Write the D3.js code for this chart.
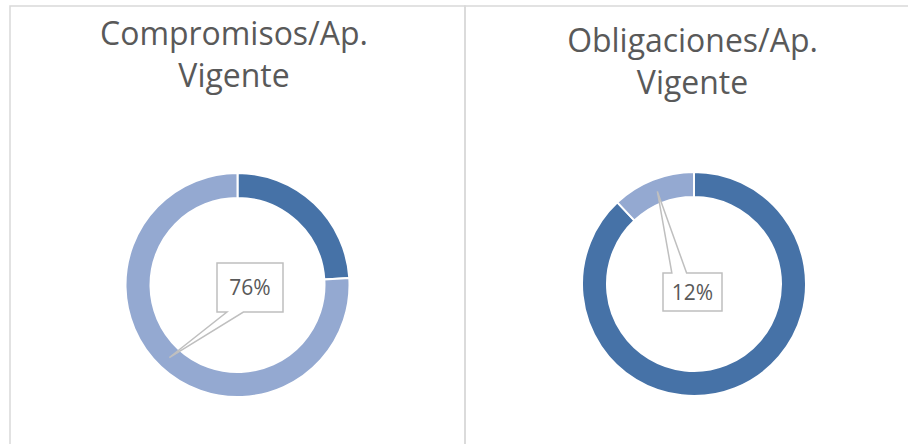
<!DOCTYPE html>
<html>
<head>
  <meta charset="utf-8">
  <script src="https://cdn.jsdelivr.net/npm/d3@7/dist/d3.min.js"></script>
  <style>
    body { margin: 0; background: #ffffff; }
    svg { display: block; }
    text { font-family: "Open Sans", sans-serif; fill: #595959; }
  </style>
</head>
<body>
  <svg id="canvas" width="908" height="444"></svg>
<script>
  // data
  const titles = [["Compromisos/Ap.", "Vigente"], ["Obligaciones/Ap.", "Vigente"]];
  const seriesDark = [24, 88];
  const seriesLight = [76, 12];
  const labelTexts = ["76%", "12%"];

  const colors = ["#4672a7", "#94a9d1"];

  // layout of the two chart boxes
  const panels = [
    { x: 10, w: 455, cx: 237.5, cy: 285, titleX: 234, titleY: 45, box: { dx: 12.5, dy: 2.5, w: 66, h: 49 } },
    { x: 465, w: 460, cx: 694, cy: 284, titleX: 692.5, titleY: 52, box: { dx: -1.5, dy: 8, w: 59, h: 38 } }
  ];

  const svg = d3.select("#canvas");
  const outerR = 112, innerR = 87;

  const pie = d3.pie().sort(null).value(d => d);
  const arc = d3.arc().innerRadius(innerR).outerRadius(outerR);
  const midArc = d3.arc().innerRadius((innerR + outerR) / 2).outerRadius((innerR + outerR) / 2);

  // pick a title size so the first line is ~268px wide, like the original
  const probe = svg.append("text").attr("font-size", 20).text(titles[0][0]);
  const titleSize = 20 * 268 / probe.node().getComputedTextLength();
  probe.remove();

  panels.forEach((p, i) => {
    svg.append("rect")
      .attr("x", p.x).attr("y", 6)
      .attr("width", p.w).attr("height", 460)
      .attr("fill", "none")
      .attr("stroke", "#d9d9d9")
      .attr("stroke-width", 1.5);

    const title = svg.append("text")
      .attr("text-anchor", "middle")
      .attr("font-size", titleSize);
    titles[i].forEach((line, k) => {
      title.append("tspan")
        .attr("x", p.titleX)
        .attr("y", p.titleY + k * 42)
        .text(line);
    });

    const g = svg.append("g").attr("transform", `translate(${p.cx},${p.cy})`);
    const arcs = pie([seriesDark[i], seriesLight[i]]);

    g.selectAll("path.slice")
      .data(arcs)
      .join("path")
      .attr("class", "slice")
      .attr("d", arc)
      .attr("fill", (d, j) => colors[j])
      .attr("stroke", "#ffffff")
      .attr("stroke-width", 2);

    // callout label on the second slice
    const tip = midArc.centroid(arcs[1]);
    const b = p.box;
    const x0 = b.dx - b.w / 2, x1 = b.dx + b.w / 2;
    const y0 = b.dy - b.h / 2, y1 = b.dy + b.h / 2;
    const na = x0 + 0.15 * b.w, nb = x0 + 0.40 * b.w;
    let d;
    if (tip[1] > y1) {
      d = `M${x0},${y0}H${x1}V${y1}H${nb}L${tip[0]},${tip[1]}L${na},${y1}H${x0}Z`;
    } else {
      d = `M${x0},${y0}H${na}L${tip[0]},${tip[1]}L${nb},${y0}H${x1}V${y1}H${x0}Z`;
    }
    g.append("path")
      .attr("d", d)
      .attr("fill", "#ffffff")
      .attr("stroke", "#bfbfbf")
      .attr("stroke-width", 1.5)
      .attr("stroke-linejoin", "miter");

    g.append("text")
      .attr("x", b.dx)
      .attr("y", b.dy)
      .attr("dy", "0.36em")
      .attr("text-anchor", "middle")
      .attr("font-size", 21)
      .attr("fill", "#404040")
      .text(labelTexts[i]);
  });
</script>
</body>
</html>
